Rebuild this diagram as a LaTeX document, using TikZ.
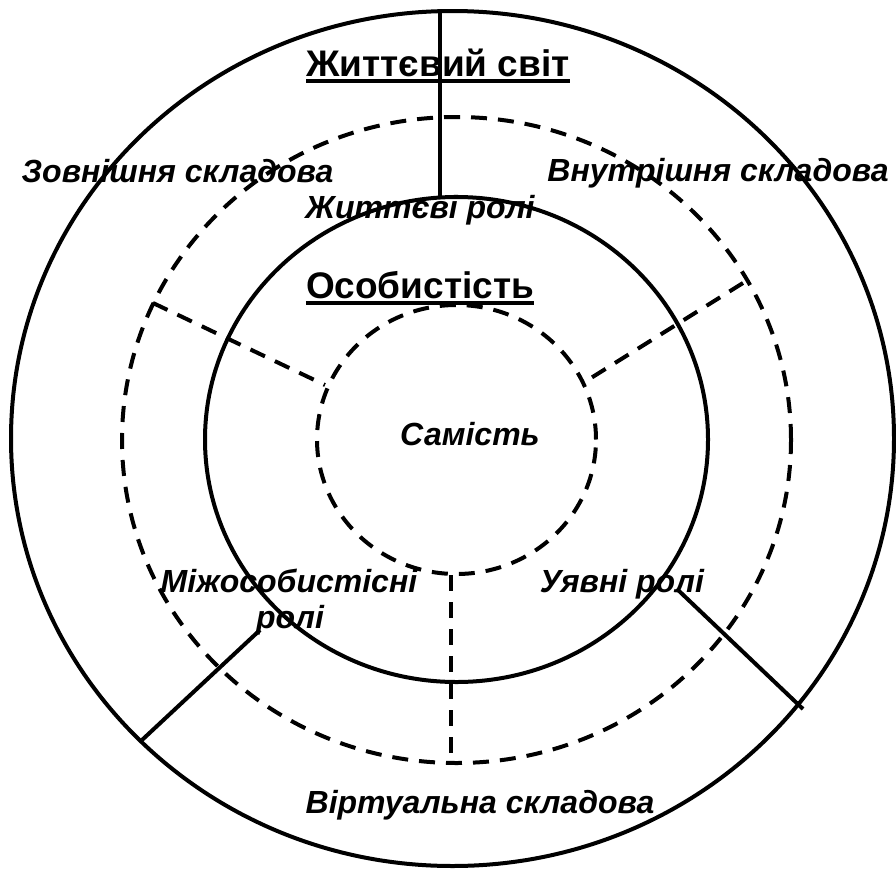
\documentclass[tikz,border=0pt]{standalone}
\usepackage{fontspec}
\setmainfont{Liberation Sans}
\begin{document}
\begin{tikzpicture}[x=1pt,y=-1pt,
  solidln/.style={line width=4pt},
  dashln/.style={line width=4pt, dash pattern=on 16pt off 11pt},
  head/.style={font=\fontsize{37}{40}\selectfont\bfseries, inner sep=0pt, anchor=base},
  lab/.style={font=\fontsize{32}{36}\selectfont\bfseries\itshape, inner sep=0pt, anchor=base}]
\useasboundingbox (0,0) rectangle (896,870);
% circles
\draw[solidln] (452.5,438.5) ellipse [x radius=441.5pt, y radius=427.5pt];
\draw[dashln] (456.5,440) ellipse [x radius=334.5pt, y radius=323pt];
\draw[solidln] (456.5,439.5) ellipse [x radius=251.5pt, y radius=242.5pt];
\draw[dashln] (456.5,439.5) ellipse [x radius=139.5pt, y radius=134.5pt];
% end points of dividers
\coordinate (vt) at (440,11);
\coordinate (vb) at (440,197);
\coordinate (llo) at (142,740);
\coordinate (lli) at (260,630);
\coordinate (lri) at (678,590);
\coordinate (lro) at (803,709);
\coordinate (ulo) at (153,303);
\coordinate (uli) at (325,385);
\coordinate (uro) at (743,283);
\coordinate (uri) at (583,383);
\coordinate (bdi) at (450.5,575);
\coordinate (bdo) at (450.5,763);
% dividers
\draw[solidln] (vt) -- (vb);
\draw[solidln] (llo) -- (lli);
\draw[solidln] (lri) -- (lro);
\draw[dashln] (ulo) -- (uli);
\draw[dashln] (uro) -- (uri);
\draw[dashln] (bdi) -- (bdo);
% texts
\node[head] (world) at (438,76) {Життєвий світ};
\node[head] (pers) at (420,298) {Особистість};
\draw[line width=4pt] ([yshift=-5pt]world.base west) -- ([yshift=-5pt]world.base east);
\draw[line width=4pt] ([yshift=-5pt]pers.base west) -- ([yshift=-5pt]pers.base east);
\node[lab] (outer) at (177.5,182) {Зовнішня складова};
\node[lab] (inner) at (718,181) {Внутрішня складова};
\node[lab] (life) at (420,218) {Життєві ролі};
\node[lab] (self) at (470,445) {Самість};
\node[lab] (inter1) at (289,592) {Міжособистісні};
\node[lab] (inter2) at (290,628) {ролі};
\node[lab] (imag) at (622,592) {Уявні ролі};
\node[lab] (virt) at (480,813) {Віртуальна складова};
\end{tikzpicture}
\end{document}
